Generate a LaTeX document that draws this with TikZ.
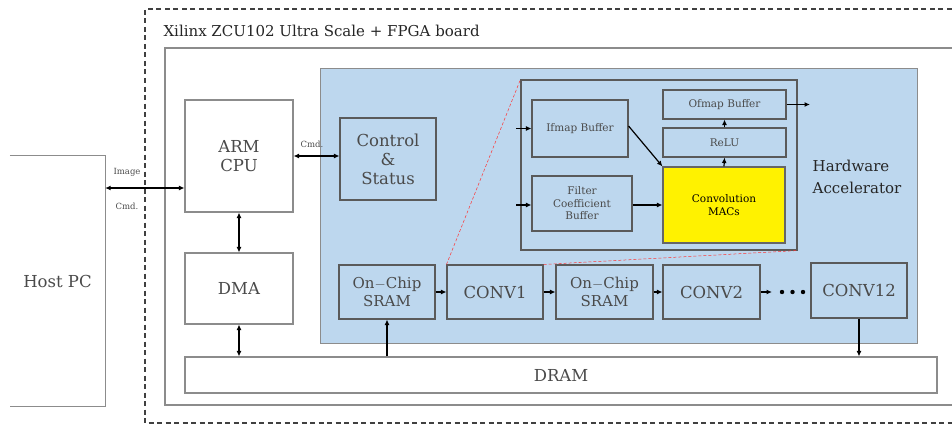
\documentclass[tikz,border=0pt]{standalone}
\usepackage{fontspec}
\setmainfont{DejaVu Serif}
\usetikzlibrary{arrows.meta,calc}
\definecolor{accblue}{HTML}{BDD7EE}
\definecolor{boxgray}{HTML}{8C8C8C}
\definecolor{dgray}{HTML}{5A5A5A}
\definecolor{txtgray}{HTML}{4A4A4A}
\tikzset{
  box/.style={draw=boxgray, line width=1.1pt, rectangle, inner sep=0pt, align=center, text=txtgray},
  ibox/.style={draw=dgray, line width=1.1pt, rectangle, inner sep=0pt, align=center, text=txtgray},
  big/.style={font=\fontsize{16.5}{19}\selectfont},
  mid/.style={font=\fontsize{15}{17.5}\selectfont},
  small/.style={font=\fontsize{10.5}{12.5}\selectfont},
  tiny/.style={font=\fontsize{8.5}{9.5}\selectfont, text=txtgray},
  arr/.style={-{Latex[length=5.5pt,width=5pt]}, line width=1.2pt, black},
  dbl/.style={{Latex[length=5.5pt,width=5pt]}-{Latex[length=5.5pt,width=5pt]}, line width=1.2pt, black},
  zoomline/.style={red!80, densely dashed, line width=0.5pt}
}
\begin{document}
\begin{tikzpicture}[x=1pt,y=-1pt]
\useasboundingbox (0,0) rectangle (952,428);
\clip (0,0) rectangle (952,428);
% outer dashed board
\draw[dashed, line width=1.3pt, dash pattern=on 5pt off 3.5pt, black!75] (960,9) -- (145,9) -- (145,423) -- (960,423);
\node[anchor=west, font=\fontsize{15}{17}\selectfont, text=black!85] (title) at (160,31) {Xilinx ZCU102 Ultra Scale + FPGA board};
% inner board box
\draw[boxgray, line width=1.1pt] (960,48) -- (165,48) -- (165,405) -- (960,405);
% host PC
\node[draw=none, minimum width=95pt, minimum height=250pt, big, text=txtgray] (host) at (57.5,281) {Host PC};
\draw[boxgray, line width=1.1pt] (host.north west) -- (host.north east) -- (host.south east) -- (host.south west);
% accelerator region
\fill[accblue] (320,68) rectangle (917,343);
\draw[boxgray, line width=0.8pt] (320,68) rectangle (917,343);
\node[align=left, font=\fontsize{15}{22}\selectfont, text=black!85] (hwacc) at (857,177) {Hardware\\Accelerator};
% main boxes
\node[box, big, fill=white, minimum width=108pt, minimum height=112pt] (arm) at (239,156) {ARM\\CPU};
\node[box, big, fill=white, minimum width=108pt, minimum height=71pt] (dma) at (239,288.5) {DMA};
\node[box, big, fill=white, minimum width=752pt, minimum height=36pt] (dram) at (561,375) {DRAM};
\node[ibox, big, minimum width=96pt, minimum height=82pt] (ctrl) at (388,159) {Control\\\&\\Status};
% bottom chain
\node[ibox, mid, minimum width=96pt, minimum height=54pt] (sram1) at (387,292) {On$-$Chip\\SRAM};
\node[ibox, big, minimum width=96pt, minimum height=54pt] (conv1) at (495,292) {CONV1};
\node[ibox, mid, minimum width=97pt, minimum height=54pt] (sram2) at (604.5,292) {On$-$Chip\\SRAM};
\node[ibox, big, minimum width=97pt, minimum height=54pt] (conv2) at (711.5,292) {CONV2};
\node[ibox, big, minimum width=96pt, minimum height=55pt] (conv12) at (859,290.5) {CONV12};
% zoomed detail box
\node[draw=dgray, line width=1.1pt, minimum width=276pt, minimum height=170pt, inner sep=0pt] (inner) at (659,165) {};
\node[ibox, small, minimum width=96pt, minimum height=57pt] (ifmap) at (580,128.5) {Ifmap Buffer};
\node[ibox, small, minimum width=100pt, minimum height=55pt] (filter) at (582,203.5) {Filter\\Coefficient\\Buffer};
\node[ibox, small, minimum width=123pt, minimum height=29pt] (ofmap) at (724.5,104.5) {Ofmap Buffer};
\node[ibox, small, minimum width=123pt, minimum height=29pt] (relu) at (724.5,142.5) {ReLU};
\node[draw=black!60, fill=yellow, line width=1.1pt, inner sep=0pt, align=center, font=\fontsize{10.5}{13}\selectfont, text=black, minimum width=122pt, minimum height=76pt] (mac) at (724,205) {Convolution\\MACs};
% zoom lines
\draw[zoomline] (conv1.north west) -- (inner.north west);
\draw[zoomline] (conv1.north east) -- (inner.south east);
% connectors
\coordinate (hostport) at (host.east |- 0,188);
\draw[dbl] (hostport) -- (arm.west |- hostport);
\node[tiny] (lblimg) at (127,172) {Image};
\node[tiny] (lblcmd) at (127,206) {Cmd.};
\draw[dbl] (arm.east) -- (arm.east -| ctrl.west);
\node[tiny] (lblcmd2) at (312,144) {Cmd.};
\draw[dbl] (arm.south) -- (dma.north);
\draw[dbl] (dma.south) -- (dma.south |- dram.north);
\draw[arr] (dram.north -| sram1.south) -- (sram1.south);
\draw[arr] (conv12.south) -- (conv12.south |- dram.north);
\draw[arr] (sram1.east) -- (conv1.west);
\draw[arr] (conv1.east) -- (sram2.west);
\draw[arr] (sram2.east) -- (conv2.west);
\coordinate (dotsstart) at (772,292);
\draw[arr] (conv2.east) -- (dotsstart);
\fill[black] (782,292) circle (2.2pt) (792.5,292) circle (2.2pt) (803,292) circle (2.2pt);
% inner connectors
\coordinate (ifin) at (516,128.5);
\coordinate (fiin) at (516,205);
\draw[arr] (ifin) -- (ifmap.west);
\draw[arr] (fiin) -- (filter.west |- fiin);
\draw[arr] (ifmap.east |- 0,126) -- (mac.north west);
\draw[arr] (filter.east |- mac.west) -- (mac.west);
\draw[arr] (mac.north) -- (relu.south);
\draw[arr] (relu.north) -- (ofmap.south);
\coordinate (ofout) at (810,104.5);
\draw[arr] (ofmap.east) -- (ofout);
\end{tikzpicture}
\end{document}
